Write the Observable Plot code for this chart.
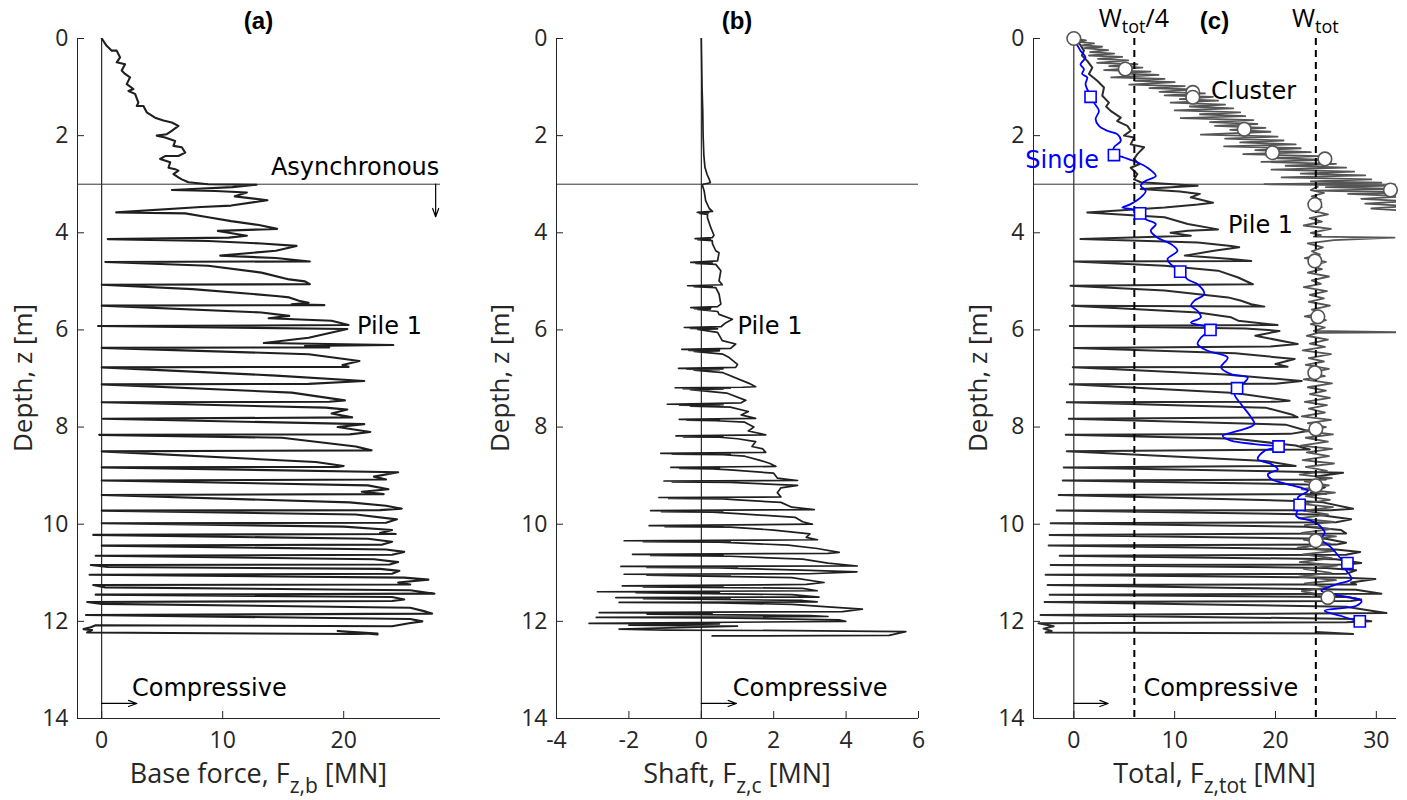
<!DOCTYPE html>
<html>
<head>
<meta charset="utf-8">
<script src="https://cdn.jsdelivr.net/npm/d3@7"></script>
<script src="https://cdn.jsdelivr.net/npm/@observablehq/plot@0.6"></script>
<style>
  html, body { margin: 0; padding: 0; background: #fff; }
  #wrap { position: relative; width: 1407px; height: 800px; overflow: hidden; }
</style>
</head>
<body>
<div id="wrap"></div>
<script>
// ---------------- DATA ----------------
const depthDomain = [0, 14];
const depthTicks = [0, 2, 4, 6, 8, 10, 12, 14];
const baseDomain = [-2, 28];
const baseTicks = [0, 10, 20];
const shaftDomain = [-4, 6];
const shaftTicks = [-4, -2, 0, 2, 4, 6];
const totalDomain = [-4, 32];
const totalTicks = [0, 10, 20, 30];
const asyncDepth = 3;
const Wtot = 24;

// Base force trace, [force MN, depth m]
const baseTrace = [
[0,0],[0.41,0.15],[0.83,0.25],[1.24,0.25],[1.52,0.39],[1.24,0.49],[1.93,0.53],[1.65,0.66],[1.93,0.73],[2.34,0.8],[2.07,0.94],[2.62,1.04],[2.21,1.08],[2.76,1.14],[3.03,1.32],[2.9,1.39],[3.45,1.39],[3.72,1.52],[4.41,1.63],[5.1,1.69],[5.79,1.73],[6.34,1.8],[5.79,1.9],[5.38,1.97],[4.55,2.0],[5.24,2.04],[6.07,2.11],[5.93,2.21],[6.62,2.24],[6.9,2.35],[6.34,2.42],[5.24,2.42],[4.83,2.48],[5.66,2.55],[5.52,2.66],[6.07,2.69],[6.34,2.72],[5.93,2.79],[6.34,2.86],[6.62,2.9],[7.17,2.96],[8.8,3.0],[12.8,3.01],[10.8,3.06],[5.8,3.12],
[9.4,3.14],[12.0,3.17],[11.0,3.25],[13.7,3.33],[10.7,3.44],[8.2,3.47],[1.2,3.58],
[6.9,3.6],[8.8,3.68],[10.7,3.76],[13.0,3.84],[14.5,3.92],[9.6,3.96],[11.0,4.02],[12.0,4.06],[10.5,4.1],[0.5,4.13],
[8.8,4.17],[13.2,4.22],[16.1,4.27],[14.4,4.37],[9.8,4.47],[14.4,4.52],[17.2,4.59],[0.3,4.6],
[8.8,4.68],[13.2,4.82],[15.5,4.96],[16.8,5.0],[17.2,5.06],[0,5.07],
[7.5,5.16],[14.4,5.3],[15.5,5.33],[16.3,5.4],[17.1,5.44],[15.7,5.47],[18.4,5.49],[0,5.5],
[13.2,5.64],[15.5,5.71],[13.8,5.76],[19.0,5.81],[20.4,5.9],[-0.3,5.92],
[20.3,5.98],[17.1,6.16],[13.4,6.27],[24.1,6.31],[16.8,6.33],[18.8,6.36],[0,6.37],
[17.1,6.5],[21.3,6.64],[19.9,6.72],[20.4,6.76],[0,6.77],
[14.4,6.94],[21.7,7.05],[17.1,7.11],[0,7.12],
[15.7,7.29],[20.1,7.45],[18.8,7.48],[0,7.49],
[18.5,7.6],[20.3,7.64],[19,7.72],[20.7,7.8],[0.1,7.83],
[21.7,7.94],[19.5,8.0],[22.2,8.1],[20.5,8.15],[-0.2,8.16],
[14.9,8.22],[21,8.4],[22.3,8.48],[0,8.5],
[17.7,8.72],[20,8.8],[19.5,8.82],[0,8.83],
[24.5,8.93],[22.5,9.02],[23.5,9.08],[0,9.1],
[22,9.2],[23.7,9.28],[21.5,9.33],[23.3,9.38],[0,9.4],
[20.5,9.55],[23.5,9.62],[24.8,9.68],[23,9.71],[0,9.72],
[21,9.8],[24.4,9.9],[23.5,9.97],[0,9.98],
[20,10.05],[24,10.12],[23,10.18],[24.3,10.2],[-0.7,10.22],
[22,10.3],[24,10.36],[23.2,10.42],[0,10.44],
[23.5,10.52],[25,10.57],[24,10.63],[-0.5,10.65],
[22.5,10.72],[24.5,10.78],[23.8,10.83],[-0.9,10.84],
[0.5,10.88],[23,10.92],[24.6,10.96],[24,11.02],[-1.0,11.04],
[25,11.1],[27,11.14],[24.5,11.2],[25.5,11.24],[-0.7,11.25],
[0.3,11.3],[25.5,11.36],[27.5,11.43],[-0.5,11.45],
[24,11.5],[25,11.55],[24,11.58],[-1.2,11.6],
[0,11.64],[25.5,11.72],[26.8,11.8],[27.3,11.84],[-1.3,11.87],
[25.5,11.95],[26.5,12.0],[25.4,12.04],[24,12.1],[-0.5,12.08],[-0.9,12.12],[-1.5,12.16],[-0.8,12.18],[-1.2,12.23],
[21,12.26],[22.8,12.25],[19.5,12.2],[22.8,12.27]
];

// Shaft force trace, [force MN, depth m]
const shaftTrace = [
[0,0],[0.01,0.5],[0.02,1.0],[0.04,1.5],[0.05,2.0],[0.07,2.4],[0.1,2.65],[0.16,2.8],[0.22,2.9],[0.25,2.97],[0.05,3.0],
[0.03,3.02],[0.08,3.14],[0.12,3.34],[0.22,3.5],[0.31,3.56],[-0.11,3.58],[0.2,3.59],[-0.05,3.6],[0.17,3.62],[0.17,3.69],[0.26,3.89],[0.35,4.05],[0.3,4.1],[-0.17,4.12],[0.25,4.13],[-0.1,4.14],[0.3,4.16],[0.31,4.23],[0.4,4.37],[0.49,4.41],[0.45,4.58],[-0.29,4.61],[0.3,4.62],[-0.15,4.63],[0.4,4.65],[0.54,4.78],[0.49,4.99],[0.58,5.07],[-0.38,5.09],[0.3,5.1],[-0.2,5.11],[0.4,5.13],[0.49,5.26],[0.54,5.47],[0.45,5.52],[-0.29,5.54],[0.26,5.55],[-0.2,5.56],[0.25,5.57],[-0.1,5.58],[0.45,5.62],[0.49,5.68],[0.86,5.78],[0.68,5.85],[0.55,5.93],[-0.47,5.95],[0.4,5.96],[-0.3,5.97],[0.45,5.98],[-0.1,5.99],[0.45,6.05],[0.58,6.22],[0.95,6.29],[0.81,6.38],[-0.54,6.4],[0.5,6.41],[-0.35,6.42],[0.5,6.43],[-0.2,6.44],[0.6,6.5],[0.77,6.57],[1.0,6.71],[0.95,6.77],[-0.63,6.79],[0.6,6.8],[-0.4,6.81],[0.5,6.82],[-0.2,6.83],[0.6,6.88],[1.32,7.1],[1.5,7.17],[1.14,7.18],[-0.72,7.19],[0.8,7.2],[-0.5,7.21],[0.6,7.22],[-0.3,7.23],[0.7,7.3],[1.23,7.45],[1.1,7.5],
[-0.94,7.53],[0.6,7.54],[-0.6,7.55],[0.5,7.56],[-0.3,7.57],[0.8,7.59],[1.3,7.68],[1.1,7.75],[1.5,7.82],
[-0.61,7.84],[0.5,7.85],[-0.4,7.86],[0.4,7.87],[1.2,7.9],[1.45,8.0],[1.3,8.08],[1.78,8.16],
[-0.7,8.18],[0.6,8.19],[-0.5,8.2],[0.5,8.21],[1.0,8.24],[1.5,8.3],[1.4,8.4],[1.7,8.45],[1.78,8.52],
[-1.12,8.54],[0.8,8.55],[-0.8,8.56],[0.6,8.57],[1.2,8.6],[1.6,8.68],[1.9,8.75],[2.06,8.81],
[-0.84,8.83],[0.5,8.84],[-0.6,8.85],[0.3,8.86],[0.8,8.88],[2.0,8.95],[2.1,9.05],[2.66,9.1],
[-1.03,9.11],[0.5,9.12],[-0.8,9.13],[0.8,9.14],[2.66,9.2],[2.2,9.25],[2.1,9.35],[2.2,9.44],
[-1.17,9.45],[0.5,9.46],[-0.9,9.47],[0.6,9.48],[1.0,9.5],[2.2,9.55],[2.5,9.65],[3.12,9.7],
[-1.4,9.72],[0.6,9.73],[-1.1,9.74],[0.3,9.75],[1.0,9.78],[2.6,9.86],[2.8,9.95],[3.07,10.0],
[-1.44,10.03],[0.6,10.04],[-1.0,10.05],[0.8,10.06],[2.0,10.12],[3.0,10.2],[2.9,10.27],[3.21,10.32],
[-2.13,10.34],[0.8,10.35],[-1.6,10.36],[0.5,10.37],[2.4,10.43],[3.2,10.5],[3.81,10.58],[3.5,10.6],
[-1.9,10.62],[0.6,10.63],[-1.4,10.64],[0.8,10.66],[2.8,10.72],[3.5,10.8],[4.31,10.86],
[-2.22,10.87],[1.0,10.88],[-1.5,10.89],[0.5,10.9],[3.0,10.95],[4.3,10.98],[3.0,11.02],
[-2.13,11.03],[0.8,11.04],[-1.5,11.05],[2.5,11.1],[3.39,11.2],[2.9,11.24],
[-2.18,11.27],[0.6,11.28],[-1.6,11.29],[2.8,11.32],[3.2,11.37],
[-2.87,11.39],[0.5,11.4],[-1.8,11.41],[2.5,11.45],[3.25,11.5],
[-2.36,11.51],[0.8,11.52],[-1.6,11.53],[2.8,11.57],[3.2,11.6],
[-2.27,11.61],[0.5,11.62],[2.5,11.65],[3.5,11.7],[4.45,11.75],[3.9,11.8],
[-2.82,11.82],[0.3,11.83],[-1.5,11.85],[3.0,11.88],[3.5,11.9],
[-2.9,11.92],[0.5,11.93],[3.8,11.97],[3.99,12.0],
[-3.1,12.04],[0.5,12.05],[-2.0,12.08],[1.0,12.1],[-2.27,12.16],[-1.0,12.18],[2.5,12.19],[5.65,12.21],[5.19,12.29],[0.3,12.3]
];

// Total force, pile 1, [force MN, depth m]
const pileTrace = [
[0,0.02],[0.6,0.12],[1.0,0.25],[0.8,0.35],[1.33,0.46],[1.83,0.6],[1.5,0.73],[2.32,0.87],[2.99,1.01],[2.82,1.18],[3.48,1.32],[3.2,1.4],[3.65,1.49],[4.65,1.63],[4.3,1.7],[5.31,1.8],[5.64,1.9],[4.98,2.0],[5.97,2.04],[5.64,2.18],[6.97,2.24],[6.3,2.38],[5.97,2.48],[6.47,2.59],[5.64,2.66],[6.3,2.79],[5.97,2.9],[6.64,2.96],
[12.27,3.03],[6.64,3.1],[10.5,3.15],[12.5,3.2],[11.6,3.27],[13.8,3.38],[12.3,3.42],[9.0,3.48],[1.33,3.58],
[9.0,3.68],[11.3,3.82],[14.3,3.93],[11.3,3.96],[9.6,4.0],[11.6,4.06],[0.66,4.13],
[12.3,4.2],[15.6,4.27],[16.4,4.3],[13.9,4.37],[11.0,4.47],[15.6,4.54],[17.6,4.58],[0,4.59],
[9.0,4.68],[14.3,4.78],[16.3,4.92],[17.75,5.06],[-0.33,5.09],
[9.0,5.19],[15.3,5.33],[16.6,5.4],[17.6,5.47],[18.9,5.52],[-0.17,5.5],
[12.3,5.64],[15.6,5.74],[16.3,5.81],[20.2,5.9],[-0.4,5.92],
[17,5.97],[20.4,6.02],[18,6.12],[22.2,6.29],[19.5,6.34],[0,6.37],
[16,6.48],[21.9,6.6],[20,6.7],[21.2,6.76],[-0.1,6.77],
[15,6.92],[22.6,7.05],[20,7.11],[-0.4,7.12],
[16,7.3],[21.4,7.46],[20,7.48],[-0.7,7.49],
[19,7.6],[21.6,7.74],[22.2,7.8],[-0.5,7.83],
[21,7.95],[23.2,8.08],[21.5,8.14],[-0.8,8.16],
[16,8.24],[22,8.38],[23.4,8.46],[-0.7,8.5],
[19,8.7],[22,8.8],[-1.0,8.83],
[26.7,8.94],[24,9.02],[25,9.08],[-1.1,9.1],
[23,9.18],[24.9,9.24],[23.5,9.35],[25,9.38],[-1.5,9.4],
[22,9.52],[24.7,9.55],[27.7,9.68],[25.5,9.71],[-1.7,9.72],
[24,9.8],[27.5,9.9],[26,9.96],[-2.3,9.98],
[23,10.05],[26.5,10.12],[27,10.19],[-2.4,10.22],
[25,10.3],[27,10.38],[26,10.42],[-2.5,10.44],
[26,10.52],[28.4,10.57],[27,10.63],[-1.4,10.65],
[26,10.72],[28.5,10.8],[27,10.83],[-2.3,10.84],
[25,10.9],[28,10.95],[27,11.02],[-2.8,11.04],
[27,11.1],[29.9,11.13],[27.5,11.2],[28,11.24],[-2.6,11.25],
[28,11.35],[30.5,11.43],[-2.4,11.45],
[27,11.5],[28.5,11.55],[27.5,11.58],[-2.9,11.6],
[27,11.7],[29.5,11.78],[31.0,11.83],[-3.3,11.87],
[28,11.95],[29.5,12.0],[27,12.02],[-3.5,12.04],[-2,12.1],[-3,12.15],[-2.2,12.2],[-2.8,12.23],
[25,12.25],[27.7,12.26],[24,12.22]
];

// Total force, cluster (synchronous part, above 3 m)
const clusterSync = [
[0,0],[1.2,0.04],[0.4,0.07],[2.0,0.1],[0.8,0.14],[2.8,0.17],[1.0,0.2],[3.4,0.24],[1.6,0.28],[4.0,0.31],[1.5,0.35],[4.8,0.38],[2.4,0.42],[5.4,0.45],[2.3,0.5],[6.3,0.53],[3.5,0.57],[6.8,0.6],[3.0,0.65],[7.6,0.68],[4.6,0.72],[8.4,0.75],[3.7,0.8],[9.0,0.83],[6.0,0.87],[10.0,0.9],[5.5,0.95],[11.0,0.98],[7.5,1.02],[12.0,1.05],[8.5,1.1],[13.0,1.13],[9.0,1.17],[13.8,1.2],[10.5,1.25],[14.3,1.28],[9.6,1.32],[15.0,1.36],[11.5,1.4],[15.8,1.44],[10.0,1.48],[16.5,1.52],[12.5,1.56],[17.0,1.6],[10.6,1.64],[17.8,1.68],[13.5,1.72],[18.2,1.76],[14.0,1.8],[19.0,1.84],[15.5,1.88],[19.5,1.92],[12.6,1.98],[20.2,2.02],[15.0,2.06],[20.8,2.1],[16.5,2.14],[22.0,2.18],[14.9,2.22],[22.5,2.26],[18.0,2.3],[23.5,2.34],[16.8,2.38],[24.2,2.42],[19.5,2.46],[25.0,2.5],[18.6,2.54],[26.0,2.58],[21.0,2.62],[27.0,2.66],[19.6,2.7],[27.8,2.74],[22.5,2.78],[28.9,2.82],[20.6,2.86],[29.5,2.9],[23.5,2.94],[30.5,2.97],[18.9,3.0],[31.5,3.03],[25,3.06],[32.5,3.1],[24.0,3.13],[33,3.17],[27.2,3.2],[33,3.25],[28.5,3.3],[33,3.35],[28.9,3.4],[33,3.45],[29.5,3.5],[33,3.55]
];
// Total force, cluster (asynchronous part, below 3 m)
const clusterAsync = [
[24.2,3.05],[23.5,3.12],[24.8,3.18],[23.6,3.25],[24.5,3.32],[23.3,3.4],[24.6,3.47],[23.7,3.55],[25.2,3.62],[23.4,3.7],[24.6,3.77],[22.8,3.85],[25.5,3.92],[23.5,4.0],[24.5,4.05],[23.8,4.08],[31.8,4.1],[25.8,4.15],[23.2,4.22],[24.7,4.3],[23.6,4.38],[24.4,4.45],[22.9,4.52],[25.0,4.6],[23.5,4.68],[24.6,4.75],[23.2,4.82],[25.3,4.9],[23.6,4.98],[24.5,5.05],[22.8,5.12],[25.1,5.2],[23.4,5.28],[24.8,5.35],[23.3,5.42],[25.4,5.5],[23.6,5.58],[24.7,5.65],[22.9,5.72],[25.0,5.8],[23.5,5.88],[24.9,5.95],[23.8,6.02],[33,6.05],[24.2,6.06],[23.1,6.12],[25.2,6.2],[23.4,6.28],[24.9,6.35],[22.7,6.42],[25.5,6.5],[23.3,6.58],[24.8,6.65],[23.0,6.72],[25.3,6.8],[23.5,6.88],[24.9,6.95],[22.8,7.02],[25.6,7.1],[23.2,7.18],[25.0,7.25],[23.4,7.32],[25.4,7.4],[22.9,7.48],[25.1,7.55],[23.3,7.62],[24.9,7.7],[22.6,7.78],[25.5,7.85],[23.2,7.92],[25.0,8.0],[22.8,8.08],[25.7,8.15],[23.0,8.22],[25.2,8.3],[22.5,8.38],[25.6,8.45],[23.1,8.52],[25.3,8.6],[22.7,8.68],[25.8,8.75],[23.0,8.82],[25.1,8.9],[22.4,8.98],[25.6,9.05],[22.9,9.12],[25.3,9.2],[22.6,9.28],[25.9,9.35],[23.0,9.42],[25.4,9.5],[22.5,9.58],[25.7,9.65],[22.8,9.72],[25.2,9.8],[22.3,9.88],[25.8,9.95],[22.9,10.02],[25.5,10.1],[22.6,10.18],[26.0,10.25],[22.8,10.32],[25.4,10.4],[22.2,10.48],[25.9,10.55],[22.7,10.62],[25.6,10.7],[22.4,10.78],[26.1,10.85],[22.8,10.92],[25.5,11.0],[22.3,11.08],[26.0,11.15],[22.9,11.22],[25.3,11.3],[22.6,11.38],[24.5,11.45],[23.5,11.5]
];

// Cluster markers (circles)
const clusterMarkF = [0, 5.1, 11.8, 11.8, 16.9, 19.7, 24.9, 31.4, 23.9, 23.9, 24.2, 23.9, 24.0, 24.0, 24.0, 25.2];
const clusterMarkZ = [0, 0.63, 1.11, 1.21, 1.87, 2.35, 2.48, 3.12, 3.42, 4.58, 5.73, 6.88, 8.04, 9.21, 10.34, 11.51];

// Single pile trace (blue) and its markers (squares)
const singleTrace = [
[0.1,0.05],[0.66,0.25],[1.16,0.39],[0.66,0.53],[1.0,0.63],[0.83,0.73],[1.33,0.8],[1.16,0.94],[1.66,1.18],[2.0,1.32],[2.49,1.49],[2.16,1.66],[2.49,1.8],[3.32,1.9],[4.31,1.97],[4.65,2.11],[3.98,2.24],[3.98,2.38],[4.98,2.45],[6.3,2.55],[7.3,2.66],[8.13,2.83],[7.13,2.93],[6.64,3.03],[7.13,3.14],[6.8,3.24],[5.64,3.41],[4.81,3.48],[5.64,3.51],[6.57,3.58],[7.13,3.72],[8.13,3.82],[7.63,3.96],[8.3,4.1],[9.62,4.23],[10.28,4.37],[9.29,4.54],[9.62,4.65],[10.55,4.78],[11.28,4.96],[12.27,5.06],[12.94,5.26],[11.94,5.4],[11.61,5.5],[12.27,5.61],[12.6,5.74],[11.61,5.85],[13.6,5.97],[12.6,6.16],[12.27,6.29],[13.27,6.43],[15.26,6.57],[14.6,6.77],[15.59,6.91],[17.25,6.98],[16.92,7.08],[16.19,7.2],[15.92,7.32],[16.59,7.53],[17.58,7.8],[17.91,7.94],[16.26,8.08],[14.76,8.18],[15.59,8.28],[17.91,8.35],[20.3,8.41],[18.91,8.49],[18.24,8.66],[19.57,8.76],[20.23,8.87],[19.24,8.97],[19.57,9.07],[21.23,9.18],[23.22,9.31],[22.22,9.45],[22.39,9.6],[22.06,9.83],[23.55,9.93],[24.21,10.0],[24.88,10.17],[24.55,10.31],[25.54,10.48],[26.54,10.72],[27.13,10.81],[26.87,10.89],[27.53,11.13],[26.2,11.23],[24.55,11.37],[25.54,11.44],[27.53,11.51],[28.53,11.58],[28.03,11.68],[24.88,11.78],[26.54,11.89],[28.36,12.02]
];
const singleMarkF = [1.66, 3.98, 6.57, 10.55, 13.55, 16.19, 20.3, 22.39, 27.13, 28.36];
const singleMarkZ = [1.2, 2.4, 3.6, 4.8, 6.0, 7.2, 8.4, 9.6, 10.8, 12.0];

// ---------------- LAYOUT / STYLE ----------------
const H = 800, MT = 38, MB = 82;
const PLOT_H = H - MT - MB;
const AX = "#262626";
const LABEL_FONT = "'Open Sans', sans-serif";
const NOTE_FONT = "'DejaVu Sans', sans-serif";
const NOTE_SIZE = 24;
const TICK_SIZE = 23;

function frameMarks(xDomain, xTicks, plotW) {
  return [
    Plot.ruleX([xDomain[0]], {stroke: AX, strokeWidth: 1}),
    Plot.ruleY([depthDomain[1]], {stroke: AX, strokeWidth: 1}),
    Plot.ruleX(xTicks, {stroke: AX, strokeWidth: 1, insetTop: PLOT_H - 7}),
    Plot.ruleY(depthTicks, {stroke: AX, strokeWidth: 1, insetRight: plotW - 7}),
    Plot.axisX({ticks: xTicks, tickSize: 0, tickPadding: 13, label: null, tickFormat: d => String(d), fontSize: TICK_SIZE, fill: AX}),
    Plot.axisY({ticks: depthTicks, tickSize: 0, tickPadding: 9, label: null, tickFormat: d => String(d), fontSize: TICK_SIZE, fill: AX})
  ];
}

function note(text, x, y, anchor, color) {
  return Plot.text([text], {x: () => x, y: () => y, text: d => d, textAnchor: anchor || "start", lineAnchor: "bottom",
    fontSize: NOTE_SIZE, fontFamily: NOTE_FONT, fill: color || "#000"});
}

function compressiveArrow(xEnd) {
  return Plot.arrow([0], {x1: () => 0, x2: () => xEnd, y1: () => 13.69, y2: () => 13.69, stroke: "#000", strokeWidth: 1.2, headLength: 11, headAngle: 40});
}

function makePanel(cfg) {
  const plotW = cfg.width - cfg.ml - cfg.mr;
  const plot = Plot.plot({
    width: cfg.width, height: H,
    marginLeft: cfg.ml, marginRight: cfg.mr, marginTop: MT, marginBottom: MB,
    x: {domain: cfg.xDomain},
    y: {domain: depthDomain, reverse: true},
    style: {fontFamily: LABEL_FONT, fontSize: TICK_SIZE + "px", color: AX, background: "transparent", overflow: "visible"},
    marks: [...cfg.marks, ...frameMarks(cfg.xDomain, cfg.xTicks, plotW)]
  });
  plot.style.position = "absolute";
  plot.style.left = cfg.left + "px";
  plot.style.top = "0px";
  const svg = d3.select(plot);
  // make sure tick labels use the intended size and font
  svg.selectAll('g[aria-label="x-axis tick label"], g[aria-label="y-axis tick label"]')
    .attr("font-size", TICK_SIZE).attr("font-family", LABEL_FONT)
    .selectAll("text").attr("font-size", TICK_SIZE);
  const cx = cfg.ml + plotW / 2;
  // title
  svg.append("text").attr("x", cx).attr("y", 29).attr("text-anchor", "middle")
    .attr("font-family", "'Liberation Sans', Arial, sans-serif").attr("font-weight", "bold")
    .attr("font-size", 24).attr("fill", "#000").text(cfg.title);
  // x label with subscript
  const xl = svg.append("text").attr("x", cx).attr("y", 783).attr("text-anchor", "middle")
    .attr("font-family", LABEL_FONT).attr("font-size", 27).attr("fill", AX);
  xl.append("tspan").text(cfg.xLabel[0]);
  xl.append("tspan").attr("dy", 10).attr("font-size", 21).text(cfg.xLabel[1]);
  xl.append("tspan").attr("dy", -10).text(cfg.xLabel[2]);
  // y label
  svg.append("text").attr("transform", `translate(${cfg.yLabelX},${MT + PLOT_H / 2}) rotate(-90)`)
    .attr("text-anchor", "middle").attr("dy", "0.35em")
    .attr("font-family", LABEL_FONT).attr("font-size", 26).attr("fill", AX).text("Depth, z [m]");
  if (cfg.after) cfg.after(plot, svg);
  document.getElementById("wrap").appendChild(plot);
  return plot;
}

const line = (data, stroke, w, extra) => Plot.line(data, Object.assign({x: d => d[0], y: d => d[1], stroke, strokeWidth: w, clip: true}, extra || {}));

// Panel (a)
makePanel({
  left: 0, width: 470, ml: 77, mr: 30, xDomain: baseDomain, xTicks: baseTicks,
  title: "(a)", xLabel: ["Base force, F", "z,b", " [MN]"], yLabelX: 23,
  marks: [
    Plot.ruleX([0], {stroke: "#000", strokeWidth: 1}),
    Plot.ruleY([asyncDepth], {stroke: "#333", strokeWidth: 1}),
    line(baseTrace, "#1f1f1f", 2.1),
    note("Asynchronous", 27.9, 2.8, "end"),
    Plot.arrow([0], {x1: () => 27.6, x2: () => 27.6, y1: () => asyncDepth, y2: () => 3.67, stroke: "#000", strokeWidth: 1.2, headLength: 11, headAngle: 40}),
    note("Pile 1", 21.1, 6.08),
    note("Compressive", 2.5, 13.53),
    compressiveArrow(2.9)
  ]
});

// Panel (b)
makePanel({
  left: 470, width: 470, ml: 86, mr: 22, xDomain: shaftDomain, xTicks: shaftTicks,
  title: "(b)", xLabel: ["Shaft, F", "z,c", " [MN]"], yLabelX: 30,
  marks: [
    Plot.ruleX([0], {stroke: "#000", strokeWidth: 1}),
    Plot.ruleY([asyncDepth], {stroke: "#333", strokeWidth: 1}),
    line(shaftTrace, "#1f1f1f", 1.7),
    note("Pile 1", 1.0, 6.08),
    note("Compressive", 0.87, 13.53),
    compressiveArrow(0.97)
  ]
});

// Panel (c)
const clusterMarks = clusterMarkF.map((f, i) => ({f, z: clusterMarkZ[i]}));
const singleMarks = singleMarkF.map((f, i) => ({f, z: singleMarkZ[i]}));
makePanel({
  left: 940, width: 467, ml: 93, mr: 11, xDomain: totalDomain, xTicks: totalTicks,
  title: "(c)", xLabel: ["Total, F", "z,tot", " [MN]"], yLabelX: 38,
  marks: [
    Plot.ruleX([0], {stroke: "#000", strokeWidth: 1}),
    Plot.ruleY([asyncDepth], {stroke: "#333", strokeWidth: 1}),
    line(pileTrace, "#2b2b2b", 2.0),
    line(clusterSync, "#555", 1.8),
    line(clusterAsync, "#555", 1.8),
    line(singleTrace, "#0000ff", 1.8, {curve: "catmull-rom"}),
    Plot.ruleX([Wtot / 4, Wtot], {stroke: "#000", strokeWidth: 2, strokeDasharray: "7,5"}),
    Plot.dot(clusterMarks, {x: "f", y: "z", r: 6.8, fill: "#fff", stroke: "#555", strokeWidth: 1.6}),
    Plot.dot(singleMarks, {x: "f", y: "z", r: 6.3, symbol: "square", fill: "#fff", stroke: "#0000ff", strokeWidth: 1.6}),
    note("Cluster", 13.6, 1.24),
    note("Single", 2.5, 2.66, "end", "#0000ff"),
    note("Pile 1", 15.3, 4.0),
    note("Compressive", 6.9, 13.53),
    compressiveArrow(3.4)
  ],
  after: (plot, svg) => {
    const xs = plot.scale("x");
    [[Wtot / 4, "/4"], [Wtot, ""]].forEach(([v, tail]) => {
      const t = svg.append("text").attr("x", xs.apply(v)).attr("y", 27).attr("text-anchor", "middle")
        .attr("font-family", LABEL_FONT).attr("font-size", 25).attr("fill", "#000");
      t.append("tspan").text("W");
      t.append("tspan").attr("dy", 6).attr("font-size", 18).text("tot");
      if (tail) t.append("tspan").attr("dy", -6).text(tail);
    });
  }
});
</script>
</body>
</html>
